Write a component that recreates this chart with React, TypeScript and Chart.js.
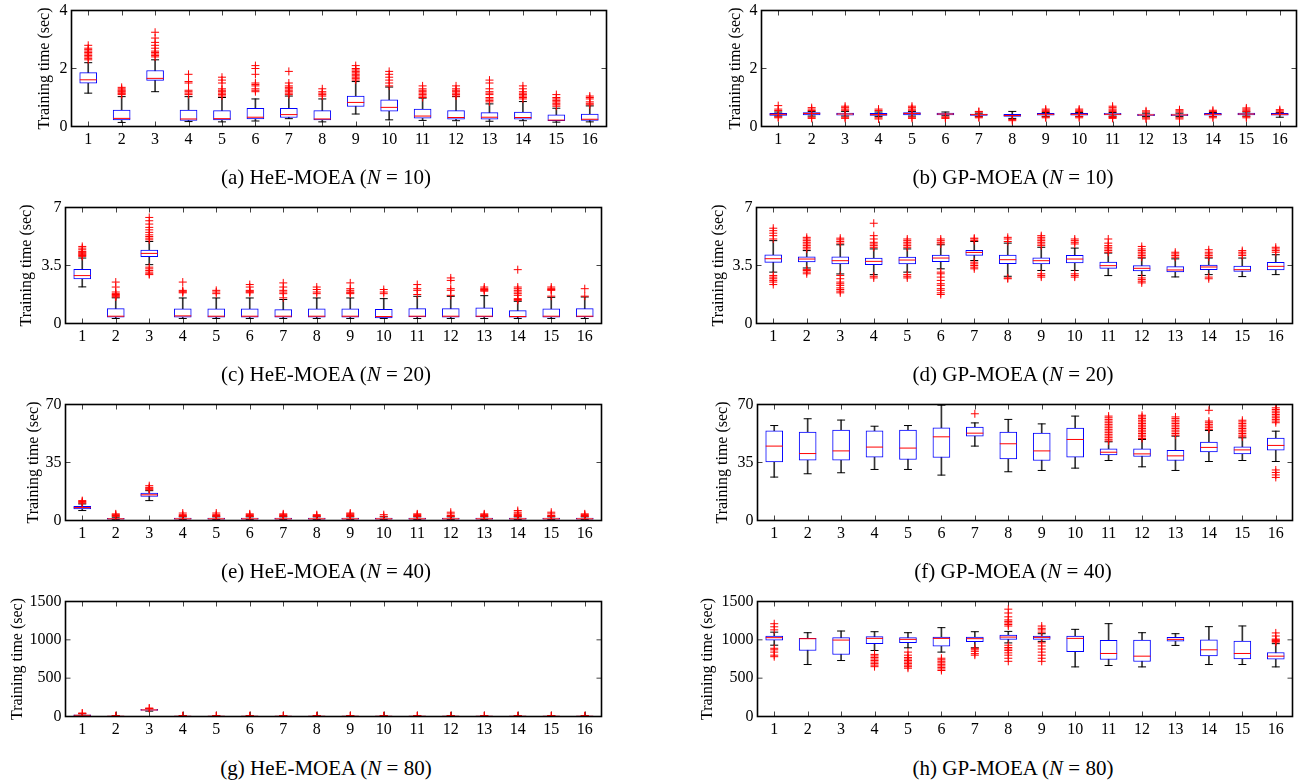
import React, { useEffect, useRef } from "react";
import { Chart, registerables } from "chart.js";

Chart.register(...registerables);
Chart.defaults.font.family = '"Liberation Serif", "Times New Roman", Times, serif';
Chart.defaults.color = "#000";

// ---------------- data ----------------
const categories = ["1", "2", "3", "4", "5", "6", "7", "8", "9", "10", "11", "12", "13", "14", "15", "16"];

const yTicksA = [0, 2, 4];
const yTicksC = [0, 3.5, 7];
const yTicksE = [0, 35, 70];
const yTicksG = [0, 500, 1000, 1500];

const captionLetters = ["(a)", "(b)", "(c)", "(d)", "(e)", "(f)", "(g)", "(h)"];
const captionAlgos = ["HeE-MOEA", "GP-MOEA", "HeE-MOEA", "GP-MOEA", "HeE-MOEA", "GP-MOEA", "HeE-MOEA", "GP-MOEA"];
const captionN = [10, 10, 20, 20, 40, 40, 80, 80];
const axisTitle = "Training time (sec)";

// (a) HeE-MOEA, N = 10
const aQ1 = [1.49, 0.23, 1.59, 0.21, 0.23, 0.26, 0.31, 0.23, 0.69, 0.53, 0.29, 0.25, 0.25, 0.25, 0.2, 0.21];
const aMed = [1.61, 0.28, 1.66, 0.26, 0.27, 0.32, 0.41, 0.26, 0.83, 0.66, 0.36, 0.31, 0.32, 0.31, 0.22, 0.25];
const aQ3 = [1.86, 0.57, 1.93, 0.57, 0.55, 0.63, 0.63, 0.55, 1.05, 0.92, 0.6, 0.55, 0.48, 0.5, 0.4, 0.43];
const aLo = [1.15, 0.14, 1.2, 0.17, 0.16, 0.19, 0.27, 0.16, 0.43, 0.23, 0.21, 0.2, 0.18, 0.2, 0.15, 0.16];
const aHi = [2.2, 1.03, 2.3, 1.03, 1.0, 0.95, 1.05, 0.95, 1.55, 1.36, 0.98, 1.03, 0.78, 0.86, 0.63, 0.71];
const aOut = [
  [2.3, 2.35, 2.4, 2.45, 2.5, 2.55, 2.6, 2.65, 2.7, 2.8],
  [1.1, 1.13, 1.16, 1.2, 1.23, 1.26, 1.3, 1.35],
  [2.4, 2.45, 2.5, 2.55, 2.6, 2.7, 2.8, 2.9, 3.05, 3.25],
  [1.1, 1.15, 1.2, 1.25, 1.5, 1.55, 1.8],
  [1.05, 1.1, 1.15, 1.2, 1.25, 1.3, 1.5, 1.6, 1.7],
  [1.2, 1.25, 1.3, 1.4, 1.45, 1.5, 1.8, 2.0, 2.1],
  [1.1, 1.15, 1.2, 1.25, 1.3, 1.35, 1.4, 1.5, 1.9],
  [1.05, 1.1, 1.15, 1.2, 1.3],
  [1.6, 1.65, 1.7, 1.75, 1.8, 1.85, 1.9, 1.95, 2.0, 2.1],
  [1.4, 1.5, 1.6, 1.7, 1.8, 1.9],
  [1.0, 1.05, 1.1, 1.15, 1.2, 1.25, 1.3, 1.4],
  [1.05, 1.1, 1.15, 1.2, 1.25, 1.3, 1.4],
  [0.85, 0.9, 0.95, 1.0, 1.1, 1.15, 1.2, 1.3, 1.5, 1.6],
  [0.95, 1.0, 1.05, 1.1, 1.15, 1.2, 1.3, 1.4],
  [0.7, 0.75, 0.8, 0.85, 0.9, 0.95, 1.0, 1.1],
  [0.75, 0.8, 0.85, 0.95, 1.0, 1.05],
];

// (b) GP-MOEA, N = 10
const bQ1 = [0.38, 0.4, 0.39, 0.38, 0.4, 0.4, 0.38, 0.35, 0.39, 0.39, 0.4, 0.37, 0.37, 0.39, 0.4, 0.39];
const bMed = [0.42, 0.45, 0.43, 0.41, 0.45, 0.43, 0.41, 0.38, 0.42, 0.42, 0.42, 0.4, 0.4, 0.42, 0.43, 0.42];
const bQ3 = [0.45, 0.48, 0.46, 0.45, 0.48, 0.46, 0.43, 0.42, 0.45, 0.45, 0.45, 0.43, 0.43, 0.45, 0.46, 0.45];
const bLo = [0.36, 0.36, 0.36, 0.35, 0.36, 0.37, 0.35, 0.28, 0.35, 0.35, 0.36, 0.34, 0.34, 0.35, 0.36, 0.32];
const bHi = [0.5, 0.52, 0.52, 0.5, 0.52, 0.5, 0.46, 0.52, 0.48, 0.48, 0.48, 0.46, 0.46, 0.48, 0.5, 0.48];
const bOut = [
  [0.3, 0.33, 0.55, 0.6, 0.72],
  [0.28, 0.32, 0.55, 0.6, 0.65],
  [0.28, 0.32, 0.56, 0.6, 0.65, 0.7],
  [0.26, 0.3, 0.55, 0.6],
  [0.28, 0.32, 0.56, 0.6, 0.65, 0.7],
  [0.28, 0.3, 0.33],
  [0.3, 0.33, 0.5, 0.52],
  [0.2, 0.24],
  [0.3, 0.33, 0.52, 0.56, 0.6],
  [0.3, 0.34, 0.52, 0.56, 0.6],
  [0.28, 0.31, 0.34, 0.52, 0.56, 0.6, 0.65, 0.7],
  [0.26, 0.3, 0.5, 0.54],
  [0.26, 0.3, 0.5, 0.54, 0.58],
  [0.3, 0.34, 0.52, 0.56],
  [0.3, 0.34, 0.52, 0.56, 0.6, 0.64],
  [0.5, 0.54, 0.58],
];

// (c) HeE-MOEA, N = 20
const cQ1 = [2.69, 0.38, 4.03, 0.38, 0.38, 0.38, 0.38, 0.38, 0.38, 0.34, 0.4, 0.38, 0.4, 0.38, 0.38, 0.4];
const cMed = [2.89, 0.44, 4.23, 0.46, 0.44, 0.44, 0.44, 0.44, 0.44, 0.42, 0.44, 0.44, 0.44, 0.42, 0.44, 0.44];
const cQ3 = [3.27, 0.9, 4.43, 0.88, 0.88, 0.88, 0.84, 0.88, 0.88, 0.86, 0.9, 0.9, 0.94, 0.78, 0.88, 0.9];
const cLo = [2.21, 0.3, 3.55, 0.3, 0.3, 0.3, 0.3, 0.3, 0.3, 0.3, 0.3, 0.3, 0.3, 0.3, 0.3, 0.3];
const cHi = [3.95, 1.55, 4.95, 1.54, 1.54, 1.54, 1.45, 1.54, 1.54, 1.5, 1.64, 1.64, 1.68, 1.34, 1.58, 1.6];
const cOut = [
  [4.05, 4.1, 4.15, 4.2, 4.25, 4.3, 4.35, 4.45, 4.55, 4.65],
  [1.6, 1.65, 1.7, 1.75, 1.8, 1.9, 2.2, 2.5],
  [2.95, 3.0, 3.1, 3.2, 3.3, 3.4, 5.05, 5.15, 5.25, 5.35, 5.5, 5.65, 5.8, 6.0, 6.2, 6.4],
  [1.85, 1.9, 1.95, 2.0, 2.5],
  [1.8, 1.9, 2.0],
  [1.85, 1.9, 1.95, 2.0, 2.2, 2.35],
  [1.55, 1.8, 1.9, 2.0, 2.2, 2.45],
  [1.8, 1.9, 2.05, 2.2],
  [1.8, 1.85, 1.9, 2.0, 2.1, 2.45],
  [1.8, 1.9, 2.05],
  [1.75, 2.0, 2.1, 2.35],
  [1.7, 2.0, 2.1, 2.6, 2.75],
  [1.95, 2.0, 2.05, 2.1, 2.2],
  [1.4, 1.45, 1.5, 1.7, 1.8, 1.9, 2.0, 2.1, 2.2, 3.25],
  [1.65, 2.0, 2.05, 2.1, 2.2],
  [1.65, 2.1],
];

// (d) GP-MOEA, N = 20
const dQ1 = [3.69, 3.71, 3.59, 3.55, 3.59, 3.73, 4.11, 3.61, 3.59, 3.65, 3.33, 3.17, 3.11, 3.25, 3.15, 3.23];
const dMed = [3.91, 3.89, 3.79, 3.75, 3.83, 3.95, 4.29, 3.85, 3.79, 3.89, 3.49, 3.33, 3.23, 3.41, 3.25, 3.45];
const dQ3 = [4.15, 4.03, 4.03, 3.95, 4.01, 4.13, 4.41, 4.13, 3.97, 4.11, 3.71, 3.49, 3.43, 3.53, 3.47, 3.69];
const dLo = [3.1, 3.35, 2.99, 2.95, 3.1, 3.3, 3.8, 2.85, 3.2, 3.2, 2.89, 2.9, 2.81, 2.95, 2.83, 2.95];
const dHi = [5.0, 4.4, 4.75, 4.5, 4.5, 4.75, 4.95, 4.85, 4.6, 4.55, 4.25, 3.95, 3.9, 3.95, 3.95, 4.15];
const dOut = [
  [2.35, 2.5, 2.6, 2.7, 2.8, 2.9, 5.1, 5.3, 5.45, 5.6, 5.75],
  [3.0, 3.1, 3.2, 3.25, 4.5, 4.6, 4.7, 4.8, 4.9, 5.0, 5.1, 5.2],
  [1.85, 1.95, 2.05, 2.15, 2.3, 2.4, 2.5, 2.7, 2.9, 4.85, 4.95, 5.05, 5.15],
  [2.75, 2.85, 4.6, 4.7, 4.8, 4.9, 5.1, 5.3, 6.05],
  [2.75, 2.85, 2.95, 4.6, 4.7, 4.8, 4.9, 5.0, 5.1],
  [1.75, 1.85, 2.0, 2.1, 2.3, 2.4, 2.6, 2.8, 3.0, 3.1, 4.8, 4.9, 5.0, 5.1],
  [3.3, 3.4, 3.5, 3.6, 3.7, 5.0, 5.1, 5.15],
  [2.7, 2.75, 4.95, 5.1, 5.2],
  [2.8, 2.9, 3.0, 4.7, 4.8, 4.9, 5.0, 5.1, 5.2, 5.3],
  [2.8, 2.9, 3.0, 4.8, 4.9, 5.0, 5.1],
  [4.3, 4.4, 4.5, 4.6, 4.7, 4.85, 5.1],
  [2.45, 2.55, 2.65, 2.75, 4.0, 4.1, 4.2, 4.3, 4.4, 4.5, 4.65],
  [4.0, 4.1, 4.2, 4.3],
  [2.7, 2.8, 4.0, 4.1, 4.2, 4.3, 4.45],
  [4.1, 4.2, 4.3, 4.4],
  [4.3, 4.4, 4.5, 4.6],
];

// (e) HeE-MOEA, N = 40
const eQ1 = [7.0, 0.8, 14.5, 0.8, 0.8, 0.8, 0.8, 0.8, 0.8, 0.8, 0.8, 0.8, 0.8, 0.8, 0.8, 0.8];
const eMed = [7.8, 1.0, 15.5, 1.0, 1.0, 1.0, 1.0, 1.0, 1.0, 1.0, 1.0, 1.0, 1.0, 1.0, 1.0, 1.0];
const eQ3 = [8.6, 1.3, 16.5, 1.4, 1.4, 1.4, 1.4, 1.4, 1.4, 1.4, 1.4, 1.4, 1.4, 1.4, 1.4, 1.4];
const eLo = [6.0, 0.5, 12.0, 0.5, 0.5, 0.5, 0.5, 0.5, 0.5, 0.5, 0.5, 0.5, 0.5, 0.5, 0.5, 0.5];
const eHi = [10.0, 2.0, 18.0, 2.2, 2.2, 2.2, 2.2, 2.2, 2.2, 2.2, 2.2, 2.2, 2.2, 2.2, 2.2, 2.2];
const eOut = [
  [10.5, 11.0, 11.5, 12.0],
  [2.5, 3.0, 3.5, 4.0],
  [18.5, 19.0, 19.5, 20.0, 21.0],
  [2.5, 3.0, 3.5, 4.5],
  [2.5, 3.0, 3.5, 4.5],
  [2.5, 3.0, 3.5, 4.0],
  [2.5, 3.0, 3.5, 4.0],
  [2.5, 3.0, 3.5],
  [2.5, 3.0, 3.5, 4.0, 4.5],
  [2.5, 3.5],
  [2.5, 3.0, 3.5, 4.0],
  [2.5, 3.0, 4.0, 5.0],
  [2.5, 3.0, 3.5, 4.0],
  [2.5, 3.0, 3.5, 4.0, 5.0, 6.0],
  [2.5, 3.0, 4.0, 5.0],
  [2.5, 3.0, 3.5, 4.0],
];

// (f) GP-MOEA, N = 40
const fQ1 = [35.4, 36.4, 36.4, 38.2, 36.8, 38.0, 50.9, 37.2, 36.2, 38.2, 39.6, 38.6, 36.2, 41.4, 40.2, 42.4];
const fMed = [44.9, 40.4, 42.0, 44.3, 43.7, 50.5, 52.7, 46.3, 42.0, 48.9, 41.2, 40.2, 39.0, 44.1, 42.6, 45.3];
const fQ3 = [54.1, 53.3, 54.5, 54.1, 54.5, 55.9, 56.3, 53.3, 52.7, 55.7, 43.3, 43.3, 42.4, 47.3, 44.5, 49.7];
const fLo = [26.2, 28.2, 28.8, 30.8, 30.8, 27.4, 44.9, 29.4, 30.2, 31.6, 36.2, 32.4, 30.2, 35.6, 36.2, 35.6];
const fHi = [57.3, 61.4, 60.6, 56.9, 57.3, 69.6, 58.9, 61.0, 58.3, 63.0, 47.5, 48.9, 50.9, 54.3, 49.9, 53.9];
const fOut = [
  [],
  [],
  [],
  [],
  [],
  [],
  [64.4],
  [],
  [],
  [],
  [48, 49, 50, 51, 52, 53, 54, 55, 56, 57, 58, 59, 60, 61, 62, 63],
  [49.5, 50.5, 51.5, 52.5, 53.5, 54.5, 55.5, 56.5, 57.5, 58.5, 59.5, 60.5, 61.5, 62.5, 63.5],
  [51.5, 52.5, 53.5, 54.5, 55.5, 56.5, 57.5, 58.5, 59.5, 60.5, 61.5, 62.5],
  [55, 56, 57, 58, 59, 60, 66.5],
  [50.5, 51.5, 52.5, 53.5, 54.5, 55.5, 56.5, 57.5, 58.5, 59.5, 60.5],
  [26, 27.5, 29, 30.5, 59, 60, 61, 62, 63, 64, 65, 66, 67, 68],
];

// (g) HeE-MOEA, N = 80
const gQ1 = [12, 2, 80, 2, 2, 2, 2, 2, 2, 2, 2, 2, 2, 2, 2, 2];
const gMed = [16, 3, 86, 3, 3, 3, 3, 3, 3, 3, 3, 3, 3, 3, 3, 3];
const gQ3 = [22, 4, 92, 4, 4, 4, 4, 4, 4, 4, 4, 4, 4, 4, 4, 4];
const gLo = [5, 1, 70, 1, 1, 1, 1, 1, 1, 1, 1, 1, 1, 1, 1, 1];
const gHi = [35, 6, 100, 6, 6, 6, 6, 6, 6, 6, 6, 6, 6, 6, 6, 6];
const gOut = [
  [40, 45],
  [8, 10],
  [105, 110],
  [8, 10],
  [8, 10],
  [8, 10],
  [8, 10],
  [8, 10],
  [8, 10],
  [8, 10],
  [8, 10],
  [8, 10],
  [8, 10],
  [8, 10],
  [8, 10],
  [8, 10],
];

// (h) GP-MOEA, N = 80
const hQ1 = [997, 861, 809, 949, 962, 918, 975, 1006, 1006, 844, 743, 717, 984, 791, 752, 748];
const hMed = [1028, 1015, 997, 1019, 1006, 1019, 1015, 1036, 1032, 1019, 822, 787, 1006, 870, 822, 787];
const hQ3 = [1049, 1019, 1028, 1041, 1028, 1036, 1036, 1063, 1049, 1049, 993, 997, 1032, 1001, 984, 835];
const hLo = [930, 678, 730, 861, 896, 840, 896, 960, 980, 647, 665, 647, 927, 678, 678, 647];
const hHi = [1100, 1093, 1115, 1106, 1093, 1159, 1106, 1110, 1080, 1137, 1211, 1093, 1080, 1172, 1181, 950];
const hOut = [
  [780, 800, 840, 870, 890, 1130, 1170, 1210],
  [],
  [],
  [650, 670, 690, 710, 730, 750, 770, 790, 810],
  [630, 650, 670, 690, 710, 730, 750, 770, 800, 840],
  [600, 620, 640, 660, 680, 700, 720, 740, 760],
  [800, 820, 850, 870, 890],
  [720, 760, 800, 830, 860, 880, 900, 930, 1180, 1200, 1220, 1240, 1260, 1300, 1350, 1400],
  [720, 760, 800, 840, 880, 920, 960, 1100, 1130, 1150, 1180],
  [],
  [],
  [],
  [],
  [],
  [],
  [970, 980, 990, 1000, 1010, 1050, 1090],
];

// ---------------- layout (positions only) ----------------
type Layout = { colX: number; l: number; t: number; r: number; b: number; titleGap: number; capX: number; capY: number };
const layouts: Layout[] = [
  { colX: 0, l: 71.5, t: 10.5, r: 606.5, b: 126.5, titleGap: 27, capX: 326, capY: 180 },
  { colX: 670, l: 761.5, t: 10.5, r: 1296.5, b: 126.5, titleGap: 26, capX: 1013, capY: 180 },
  { colX: 0, l: 65.5, t: 207.5, r: 601.5, b: 323.5, titleGap: 39, capX: 326, capY: 377 },
  { colX: 670, l: 756.5, t: 207.5, r: 1292.5, b: 323.5, titleGap: 38, capX: 1013, capY: 377 },
  { colX: 0, l: 65.5, t: 404.5, r: 601.5, b: 520.5, titleGap: 32, capX: 326, capY: 574 },
  { colX: 670, l: 757.5, t: 404.5, r: 1292.5, b: 520.5, titleGap: 35, capX: 1013, capY: 574 },
  { colX: 0, l: 65.5, t: 601.5, r: 601.5, b: 716.5, titleGap: 48, capX: 326, capY: 771 },
  { colX: 670, l: 757.5, t: 601.5, r: 1292.5, b: 716.5, titleGap: 50, capX: 1013, capY: 771 },
];

type Series = { q1: number[]; med: number[]; q3: number[]; lo: number[]; hi: number[]; out: number[][]; yMax: number; yTicks: number[] };
const series: Series[] = [
  { q1: aQ1, med: aMed, q3: aQ3, lo: aLo, hi: aHi, out: aOut, yMax: 4, yTicks: yTicksA },
  { q1: bQ1, med: bMed, q3: bQ3, lo: bLo, hi: bHi, out: bOut, yMax: 4, yTicks: yTicksA },
  { q1: cQ1, med: cMed, q3: cQ3, lo: cLo, hi: cHi, out: cOut, yMax: 7, yTicks: yTicksC },
  { q1: dQ1, med: dMed, q3: dQ3, lo: dLo, hi: dHi, out: dOut, yMax: 7, yTicks: yTicksC },
  { q1: eQ1, med: eMed, q3: eQ3, lo: eLo, hi: eHi, out: eOut, yMax: 70, yTicks: yTicksE },
  { q1: fQ1, med: fMed, q3: fQ3, lo: fLo, hi: fHi, out: fOut, yMax: 70, yTicks: yTicksE },
  { q1: gQ1, med: gMed, q3: gQ3, lo: gLo, hi: gHi, out: gOut, yMax: 1500, yTicks: yTicksG },
  { q1: hQ1, med: hMed, q3: hQ3, lo: hLo, hi: hHi, out: hOut, yMax: 1500, yTicks: yTicksG },
];

const FONT_TICK = 16;
const FONT_TITLE = 16;
const FONT_CAPTION = 21;
const TOP_MARGIN = 20;
const BOTTOM_MARGIN = 34;
const RIGHT_MARGIN = 10;

const frameTicks = {
  id: "frameTicks",
  beforeDatasetsDraw(chart: any) {
    const { ctx, chartArea } = chart;
    const { left, right, top, bottom } = chartArea;
    const xs = chart.scales.x;
    const ys = chart.scales.y;
    ctx.save();
    ctx.strokeStyle = "#444";
    ctx.lineWidth = 1;
    ctx.beginPath();
    xs.ticks.forEach((_: any, i: number) => {
      const px = Math.round(xs.getPixelForTick(i)) + 0.5;
      ctx.moveTo(px, bottom);
      ctx.lineTo(px, bottom - 5);
      ctx.moveTo(px, top);
      ctx.lineTo(px, top + 5);
    });
    ys.ticks.forEach((_: any, i: number) => {
      const py = ys.getPixelForTick(i);
      ctx.moveTo(left, py);
      ctx.lineTo(left + 5, py);
      ctx.moveTo(right, py);
      ctx.lineTo(right - 5, py);
    });
    ctx.stroke();
    ctx.restore();
  },
  afterDraw(chart: any) {
    const { ctx, chartArea } = chart;
    ctx.save();
    ctx.strokeStyle = "#000";
    ctx.lineWidth = 1.6;
    ctx.strokeRect(chartArea.left, chartArea.top, chartArea.right - chartArea.left, chartArea.bottom - chartArea.top);
    ctx.restore();
  },
};

function BoxPanel({ lay, s }: { lay: Layout; s: Series }) {
  const ref = useRef<HTMLCanvasElement>(null);
  const canvasTop = Math.floor(lay.t) - TOP_MARGIN;
  const W = Math.round(lay.r + RIGHT_MARGIN - lay.colX);
  const H = Math.ceil(lay.b) + BOTTOM_MARGIN - canvasTop;
  const padTop = lay.t - canvasTop;
  const plotLeft = lay.l - lay.colX;
  const plotRight = lay.r - lay.colX;
  const xAxisH = H - (lay.b - canvasTop);

  useEffect(() => {
    const outliers = s.out.flatMap((arr, i) => arr.map((v) => ({ x: categories[i], y: v })));
    const chart = new Chart(ref.current as HTMLCanvasElement, {
      type: "bar",
      data: {
        labels: categories,
        datasets: [
          {
            type: "line",
            data: outliers as any,
            showLine: false,
            pointStyle: "cross",
            pointRadius: 4,
            pointBorderColor: "#ff0000",
            pointBorderWidth: 1,
            pointBackgroundColor: "#ff0000",
            order: 1,
          } as any,
          {
            type: "line",
            data: s.med,
            showLine: false,
            pointStyle: "line",
            pointRadius: 8.5,
            pointBorderColor: "#ff0000",
            pointBorderWidth: 1,
            order: 2,
          } as any,
          {
            type: "bar",
            data: s.q1.map((v, i) => [v, s.q3[i]]),
            backgroundColor: "#ffffff",
            borderColor: "#0000ff",
            borderWidth: 1,
            borderSkipped: false,
            barThickness: 17,
            grouped: false,
            order: 3,
          } as any,
          {
            type: "line",
            data: s.hi,
            showLine: false,
            pointStyle: "line",
            pointRadius: 4,
            pointBorderColor: "#000",
            pointBorderWidth: 1,
            order: 4,
          } as any,
          {
            type: "line",
            data: s.lo,
            showLine: false,
            pointStyle: "line",
            pointRadius: 4,
            pointBorderColor: "#000",
            pointBorderWidth: 1,
            order: 4,
          } as any,
          {
            type: "bar",
            data: s.lo.map((v, i) => [v, s.hi[i]]),
            backgroundColor: "#333",
            borderWidth: 0,
            barThickness: 1,
            grouped: false,
            order: 5,
          } as any,
        ],
      },
      options: {
        responsive: false,
        animation: false,
        events: [],
        layout: { padding: { top: padTop, right: W - plotRight, left: 0, bottom: 0 } },
        plugins: { legend: { display: false }, tooltip: { enabled: false } },
        scales: {
          x: {
            type: "category",
            offset: true,
            grid: { display: false, drawTicks: false },
            border: { display: false },
            ticks: { color: "#000", font: { size: FONT_TICK }, padding: 4, maxRotation: 0, autoSkip: false },
            afterFit: (sc: any) => {
              sc.height = xAxisH;
              sc.paddingLeft = 0;
              sc.paddingRight = 0;
            },
          },
          y: {
            type: "linear",
            min: 0,
            max: s.yMax,
            grid: { display: false, drawTicks: false },
            border: { display: false },
            ticks: { color: "#000", font: { size: FONT_TICK }, padding: 4, callback: (v: any) => String(v) },
            afterBuildTicks: (sc: any) => {
              sc.ticks = s.yTicks.map((v) => ({ value: v }));
            },
            afterFit: (sc: any) => {
              sc.width = plotLeft;
              sc.paddingTop = 0;
              sc.paddingBottom = 0;
            },
            title: {
              display: true,
              text: axisTitle,
              color: "#000",
              font: { size: FONT_TITLE },
              padding: { top: plotLeft - lay.titleGap - FONT_TITLE * 0.6, bottom: 0 },
            },
          },
        },
      } as any,
      plugins: [frameTicks],
    });
    return () => chart.destroy();
  }, []);

  return (
    <canvas
      ref={ref}
      width={W}
      height={H}
      style={{ position: "absolute", left: lay.colX, top: canvasTop, width: W, height: H }}
    />
  );
}

export default function App() {
  return (
    <div
      style={{
        position: "fixed",
        left: 0,
        top: 0,
        width: 1307,
        height: 782,
        background: "#fff",
        overflow: "hidden",
        fontFamily: '"Liberation Serif", "Times New Roman", Times, serif',
      }}
    >
      {layouts.map((lay, i) => (
        <BoxPanel key={"p" + i} lay={lay} s={series[i]} />
      ))}
      {layouts.map((lay, i) => (
        <div
          key={"c" + i}
          style={{
            position: "absolute",
            left: lay.capX - 200,
            width: 400,
            top: lay.capY - FONT_CAPTION * 0.6 - 2,
            height: FONT_CAPTION * 1.2,
            lineHeight: FONT_CAPTION * 1.2 + "px",
            fontSize: FONT_CAPTION,
            textAlign: "center",
            color: "#000",
            whiteSpace: "nowrap",
          }}
        >
          {captionLetters[i]} {captionAlgos[i]} (<i>N</i>&nbsp;=&nbsp;{captionN[i]})
        </div>
      ))}
    </div>
  );
}
